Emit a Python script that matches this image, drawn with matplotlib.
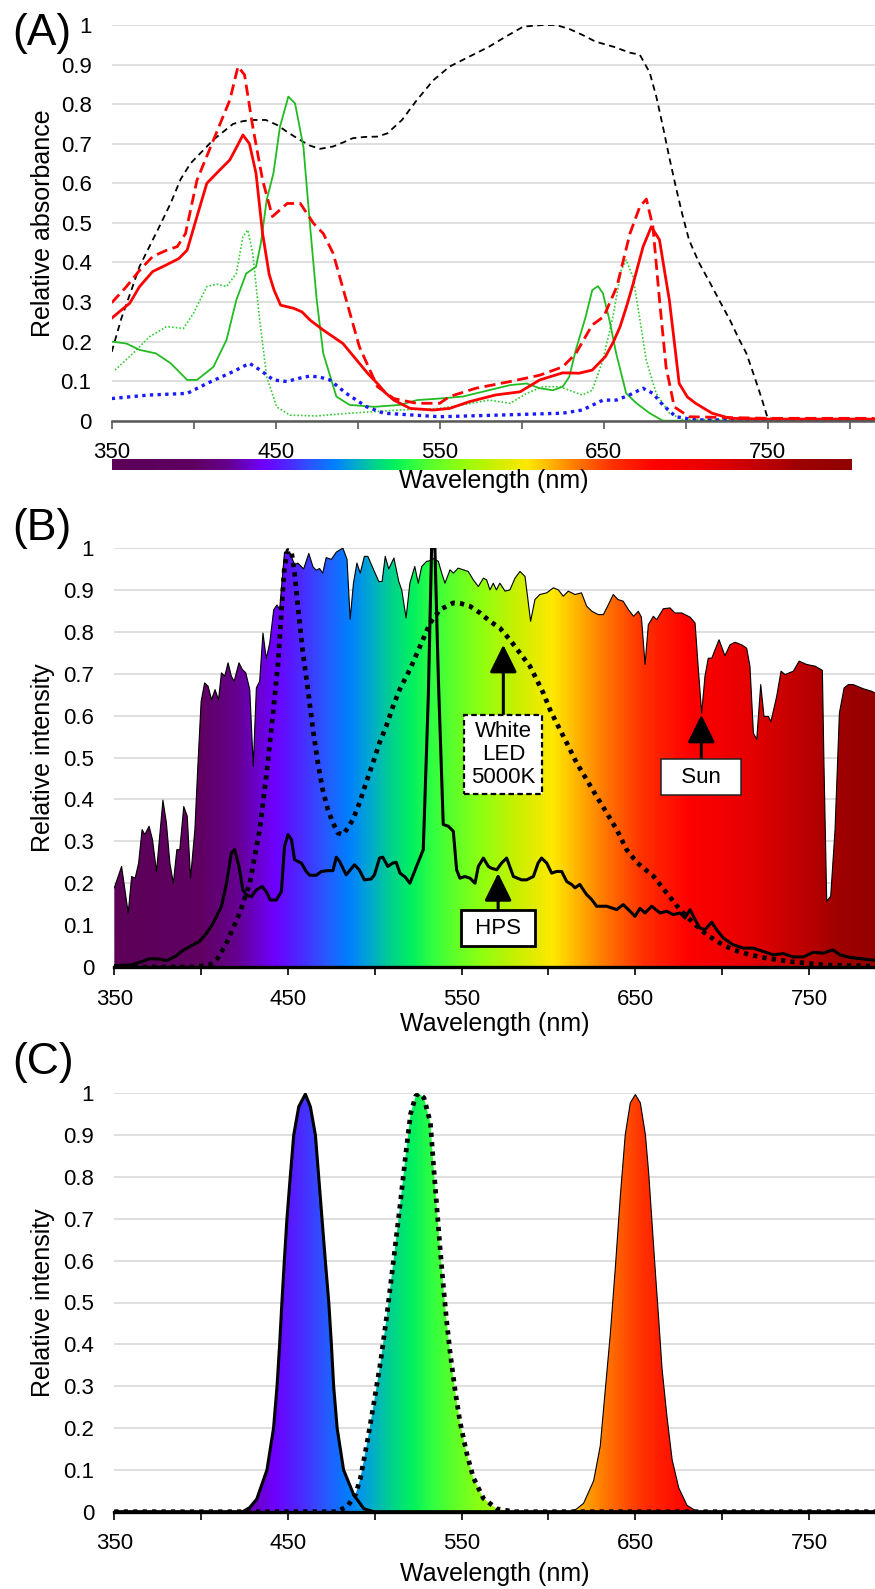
import numpy as np
import matplotlib
matplotlib.use('Agg')
import matplotlib.pyplot as plt
from matplotlib.colors import LinearSegmentedColormap
from matplotlib.patches import Polygon
from matplotlib.ticker import FuncFormatter

plt.rcParams['font.family'] = ['Liberation Sans', 'DejaVu Sans']

# ---------------- Panel A data: relative absorbance ----------------
blk_wl = [350, 356, 362, 367, 373, 379, 386, 392, 398, 405, 412, 418, 424, 430, 436, 444, 451, 458, 465, 471,
          477, 485, 491, 497, 504, 512, 518, 527, 536, 546, 556, 568, 580, 590, 601, 613, 621, 629, 637, 645,
          656, 666, 672, 678, 682, 686, 690, 694, 698, 702, 708, 715, 721, 727, 732, 737, 742, 746, 750, 760,
          780, 800, 815]
blk_val = [0.174, 0.26, 0.33, 0.39, 0.44, 0.49, 0.55, 0.61, 0.65, 0.68, 0.71, 0.73, 0.75, 0.757, 0.76, 0.76,
           0.747, 0.727, 0.709, 0.695, 0.687, 0.693, 0.703, 0.714, 0.717, 0.718, 0.726, 0.76, 0.81, 0.86, 0.895,
           0.92, 0.945, 0.97, 0.996, 1.0, 1.0, 0.99, 0.975, 0.958, 0.945, 0.93, 0.925, 0.88, 0.82, 0.745, 0.665,
           0.59, 0.52, 0.457, 0.4, 0.347, 0.3, 0.254, 0.21, 0.17, 0.11, 0.06, 0.006, 0.003, 0.003, 0.003, 0.003]

rs_wl = [350, 356, 361, 367, 375, 383, 391, 396, 402, 408, 416, 422, 426, 430, 434, 438, 442, 446, 449, 453,
         461, 466, 471, 479, 485, 491, 496, 501, 506, 512, 517, 522, 532, 546, 556, 568, 584, 599, 611, 625,
         635, 643, 651, 656, 660, 664, 668, 674, 679, 684, 687, 690, 693, 696, 701, 706, 716, 727, 750, 815]
rs_val = [0.259, 0.28, 0.297, 0.339, 0.377, 0.393, 0.41, 0.431, 0.516, 0.6, 0.634, 0.659, 0.69, 0.722, 0.70,
          0.625, 0.473, 0.37, 0.33, 0.292, 0.284, 0.275, 0.254, 0.229, 0.212, 0.195, 0.17, 0.145, 0.12, 0.094,
          0.07, 0.052, 0.031, 0.027, 0.031, 0.048, 0.065, 0.073, 0.103, 0.121, 0.12, 0.128, 0.162, 0.2, 0.238,
          0.29, 0.347, 0.44, 0.49, 0.457, 0.38, 0.305, 0.2, 0.094, 0.06, 0.044, 0.019, 0.006, 0.004, 0.004]

rd_wl = [350, 359, 367, 375, 383, 390, 395, 402, 412, 422, 427, 431, 436, 442, 448, 457, 465, 473, 479, 485,
         493, 501, 512, 522, 536, 550, 556, 572, 593, 611, 625, 633, 643, 650, 658, 666, 672, 676, 680, 684,
         688, 693, 702, 750, 815]
rd_val = [0.298, 0.339, 0.38, 0.415, 0.43, 0.44, 0.473, 0.608, 0.709, 0.81, 0.895, 0.874, 0.743, 0.608, 0.516,
          0.549, 0.549, 0.499, 0.473, 0.423, 0.305, 0.187, 0.086, 0.056, 0.044, 0.044, 0.061, 0.082, 0.099,
          0.115, 0.136, 0.17, 0.242, 0.263, 0.339, 0.473, 0.541, 0.56, 0.49, 0.305, 0.136, 0.035, 0.01, 0.006,
          0.006]

gs_wl = [350, 359, 367, 377, 386, 396, 402, 412, 420, 426, 432, 438, 441, 444.5, 448.6, 452.6, 457.7, 461.8,
         466.9, 471, 475, 479, 487, 495, 510, 526, 536, 550, 564, 580, 593, 603, 611, 619, 625, 629, 633, 639,
         643, 646.5, 649.5, 653.5, 657.6, 663.7, 670, 678, 686, 815]
gs_val = [0.2, 0.195, 0.179, 0.17, 0.145, 0.103, 0.103, 0.136, 0.204, 0.305, 0.372, 0.389, 0.45, 0.558, 0.625,
          0.743, 0.819, 0.802, 0.692, 0.49, 0.305, 0.17, 0.061, 0.04, 0.035, 0.04, 0.052, 0.056, 0.061, 0.077,
          0.09, 0.094, 0.082, 0.077, 0.086, 0.111, 0.179, 0.263, 0.33, 0.34, 0.322, 0.254, 0.17, 0.069, 0.044,
          0.019, 0.0, 0.0]

gd_wl = [352, 363, 373, 383.5, 393.7, 399.8, 408, 414, 420, 426, 430, 433, 436, 440, 444.5, 450.6, 458.7, 475,
         495, 526, 550, 564, 580, 593, 603, 613, 623, 629, 637, 643, 649.5, 655.6, 660.7, 663.7, 667.8, 671.8,
         675.9, 682, 690, 698, 815]
gd_val = [0.128, 0.17, 0.212, 0.238, 0.233, 0.271, 0.339, 0.345, 0.339, 0.372, 0.465, 0.482, 0.423, 0.263,
          0.111, 0.035, 0.014, 0.012, 0.019, 0.027, 0.031, 0.04, 0.052, 0.044, 0.069, 0.086, 0.086, 0.077, 0.065,
          0.077, 0.153, 0.263, 0.381, 0.406, 0.364, 0.263, 0.153, 0.069, 0.019, 0.003, 0.002]

bd_wl = [350, 373, 396, 408, 424, 434, 440.5, 448.6, 456.7, 464, 471, 477, 483, 493, 505.5, 515.7, 550, 584.5,
         625, 637, 649.5, 657.6, 665.7, 673.9, 680, 686, 694, 706, 815]
bd_val = [0.056, 0.065, 0.069, 0.094, 0.124, 0.145, 0.128, 0.103, 0.099, 0.107, 0.113, 0.11, 0.103, 0.069,
          0.035, 0.019, 0.01, 0.014, 0.019, 0.027, 0.052, 0.052, 0.065, 0.082, 0.069, 0.04, 0.01, 0.002, 0.002]

# ---------------- Panel B data: relative intensity ----------------
sun_wl = [350, 354.2, 358, 360, 362, 364, 366, 367.6, 370, 372, 374.3, 378, 380, 382, 384, 386, 387.7, 390, 392,
          393.9, 396.4, 398, 400, 402, 404, 406, 408, 410, 411.7, 413.6, 415.5, 417.4, 419, 421.8, 423.7, 425.7,
          428, 430, 431.8, 433.7, 435.6, 437.5, 439.5, 441.8, 443.7, 445.2, 448, 451, 453.8, 455.7, 459, 462,
          464.4, 466.3, 468.2, 470, 472, 475, 477.8, 481.6, 484, 485.8, 487.7, 489.7, 491.6, 494, 496, 498.9,
          502.3, 504.2, 506, 508, 511, 513.8, 515.5, 518, 520.2, 523, 525, 527, 529.8, 532, 534, 536.6, 538.5,
          540.4, 543.3, 545.2, 548, 551, 553.8, 556.7, 559.6, 562.5, 564.4, 566.3, 568.2, 570, 572, 575, 577.8,
          580.7, 583.6, 586.5, 589.7, 592.2, 595, 599, 602.8, 605.7, 608.5, 611.4, 615.3, 619, 622, 625, 628.7,
          631.6, 634.5, 637.3, 640, 643, 646, 649, 651.7, 653.5, 655.6, 657.5, 660.4, 662.3, 666.1, 670, 672.8,
          676.7, 681.5, 684.4, 686.3, 688.2, 690.1, 692, 694, 698.2, 701.6, 704.5, 707.4, 711.2, 714.1, 716, 718,
          719.9, 722.2, 724.1, 726.6, 728.1, 731.4, 733.9, 736.2, 741, 744.3, 748.7, 753.5, 757.7, 758.6, 760.2,
          762.5, 765, 767.5, 770.2, 772.7, 775.5, 781.3, 786.1, 788]
sun_val = [0.189, 0.24, 0.129, 0.216, 0.212, 0.248, 0.328, 0.316, 0.336, 0.304, 0.228, 0.398, 0.344, 0.248, 0.2,
           0.28, 0.28, 0.383, 0.36, 0.212, 0.328, 0.471, 0.634, 0.678, 0.67, 0.638, 0.662, 0.638, 0.702, 0.694,
           0.726, 0.694, 0.682, 0.726, 0.71, 0.702, 0.662, 0.479, 0.666, 0.682, 0.797, 0.736, 0.773, 0.853, 0.864,
           0.853, 0.99, 0.99, 0.96, 0.964, 0.95, 0.987, 0.955, 0.947, 0.951, 0.94, 0.977, 0.973, 0.99, 1.0, 0.973,
           0.83, 0.916, 0.964, 0.94, 0.98, 0.98, 0.952, 0.92, 0.92, 0.98, 0.95, 0.976, 0.92, 0.9, 0.833, 0.916,
           0.956, 0.916, 0.956, 0.968, 0.97, 0.975, 0.968, 0.94, 0.916, 0.948, 0.94, 0.952, 0.948, 0.944, 0.924,
           0.908, 0.928, 0.924, 0.9, 0.916, 0.9, 0.916, 0.897, 0.9, 0.928, 0.944, 0.932, 0.825, 0.877, 0.889,
           0.893, 0.905, 0.9, 0.885, 0.897, 0.889, 0.893, 0.861, 0.849, 0.841, 0.841, 0.865, 0.889, 0.877, 0.873,
           0.853, 0.837, 0.849, 0.835, 0.722, 0.817, 0.837, 0.829, 0.855, 0.857, 0.845, 0.845, 0.835, 0.821, 0.71,
           0.606, 0.694, 0.737, 0.737, 0.781, 0.743, 0.769, 0.775, 0.769, 0.761, 0.718, 0.558, 0.543, 0.674,
           0.598, 0.598, 0.586, 0.646, 0.706, 0.698, 0.706, 0.73, 0.722, 0.718, 0.708, 0.487, 0.157, 0.169, 0.328,
           0.606, 0.666, 0.674, 0.674, 0.664, 0.658, 0.654]

hps_wl = [350, 360, 365, 370.5, 376, 380, 385, 389.7, 394, 399, 403, 407, 411.7, 414.6, 417.4, 419.3, 421.8, 424,
          426, 429, 431.8, 435.2, 437.5, 439.8, 443.3, 446.2, 448, 450, 452, 453.8, 457.7, 460.5, 462.5, 466.3,
          469.2, 473, 475.9, 477.8, 479.7, 483.5, 488.3, 491, 494, 497.9, 499.8, 502.7, 504.6, 507.5, 510.3,
          512.3, 514.5, 517.4, 520.2, 524, 527.9, 530.8, 532.7, 534.6, 536.6, 539.4, 542.3, 545.2, 547.1, 549,
          551.9, 554.8, 557.7, 559.6, 562.5, 565.4, 567, 570.2, 573, 575.9, 579.8, 584.5, 587.4, 591.3, 594, 596,
          599, 601.8, 604.7, 607.6, 610.5, 613.3, 615.3, 618, 621.9, 624.9, 627.7, 633.5, 639.3, 643, 647, 649.8,
          652.7, 655.6, 659.4, 664.2, 668, 671.9, 675.7, 678.6, 681.5, 684.4, 687.2, 690.1, 694, 696.8, 700.7,
          706.4, 712.2, 718, 723.7, 729.5, 735.2, 741, 746.7, 752.5, 758.3, 763.6, 767.9, 773.6, 779.4, 788]
hps_val = [0.003, 0.005, 0.012, 0.02, 0.019, 0.015, 0.025, 0.04, 0.05, 0.061, 0.08, 0.105, 0.145, 0.2, 0.272,
           0.28, 0.24, 0.184, 0.172, 0.168, 0.184, 0.192, 0.18, 0.16, 0.16, 0.18, 0.288, 0.316, 0.304, 0.256,
           0.248, 0.228, 0.219, 0.219, 0.228, 0.23, 0.23, 0.262, 0.252, 0.22, 0.244, 0.232, 0.208, 0.21, 0.22,
           0.26, 0.262, 0.24, 0.248, 0.25, 0.224, 0.215, 0.2, 0.24, 0.28, 0.646, 1.0, 1.0, 0.686, 0.34, 0.336,
           0.324, 0.232, 0.212, 0.216, 0.212, 0.2, 0.24, 0.26, 0.24, 0.236, 0.232, 0.248, 0.26, 0.216, 0.208,
           0.208, 0.216, 0.248, 0.26, 0.248, 0.224, 0.228, 0.228, 0.204, 0.197, 0.189, 0.197, 0.173, 0.161, 0.145,
           0.145, 0.137, 0.149, 0.133, 0.121, 0.14, 0.129, 0.145, 0.129, 0.133, 0.125, 0.129, 0.117, 0.137, 0.113,
           0.093, 0.089, 0.107, 0.089, 0.069, 0.053, 0.045, 0.045, 0.037, 0.029, 0.032, 0.024, 0.024, 0.035,
           0.033, 0.041, 0.029, 0.023, 0.02, 0.016]

led_wl = [350, 395, 405, 409, 414.6, 422.2, 428, 433.7, 437.5, 441.4, 444.3, 446.2, 448, 450, 452, 453.8, 455.7,
          458.6, 461.5, 464.4, 467.2, 470, 473, 475.9, 478.7, 481.6, 484.5, 487.4, 491.2, 495, 498.9, 502.7,
          506.5, 510.3, 514.5, 520.2, 526, 531.8, 537.5, 545.2, 550, 554.8, 560.6, 566.3, 572, 577.8, 583.6,
          589.3, 593.2, 597, 600.9, 604.7, 610.5, 616.2, 622, 627.7, 633.5, 639.3, 645, 650.8, 656.5, 660.4, 668,
          675.7, 683.4, 691.1, 698.8, 706.4, 716, 725.6, 739, 758, 788]
led_val = [0.0, 0.0, 0.005, 0.018, 0.057, 0.129, 0.2, 0.328, 0.455, 0.606, 0.726, 0.845, 0.956, 0.994, 0.992,
           0.94, 0.86, 0.75, 0.662, 0.566, 0.487, 0.423, 0.375, 0.344, 0.32, 0.316, 0.332, 0.352, 0.392, 0.44,
           0.487, 0.535, 0.574, 0.62, 0.664, 0.71, 0.765, 0.821, 0.853, 0.869, 0.867, 0.861, 0.845, 0.825, 0.809,
           0.781, 0.749, 0.718, 0.686, 0.654, 0.614, 0.582, 0.535, 0.487, 0.447, 0.407, 0.368, 0.328, 0.28, 0.25,
           0.23, 0.217, 0.177, 0.137, 0.105, 0.077, 0.057, 0.041, 0.029, 0.021, 0.013, 0.005, 0.002]

# ---------------- Panel C data: LED spectra ----------------
blue_wl = [350, 424, 428, 432, 437.9, 441.7, 443.7, 445.2, 446.5, 447.9, 449.4, 451.3, 453.3, 456.2, 460, 462.9,
           465.8, 467.7, 469.6, 471.5, 473.5, 475, 476.3, 478.3, 482, 487.9, 493.7, 499.4, 788]
blue_val = [0.0, 0.0, 0.01, 0.03, 0.1, 0.2, 0.3, 0.4, 0.5, 0.6, 0.7, 0.8, 0.9, 0.968, 0.998, 0.968, 0.9, 0.8, 0.7,
            0.6, 0.5, 0.4, 0.3, 0.2, 0.1, 0.04, 0.007, 0.0, 0.0]
green_wl = [350, 478, 484, 488.8, 491.7, 495.6, 499.4, 503.3, 507.1, 511, 514.8, 517.7, 520.6, 523.5, 525.4,
            528.3, 532, 533.7, 535.6, 537.5, 539.4, 541.3, 543.3, 546.2, 549, 552.9, 556.7, 562.5, 570.2, 580, 788]
green_val = [0.0, 0.0, 0.012, 0.04, 0.08, 0.166, 0.258, 0.358, 0.475, 0.609, 0.742, 0.851, 0.951, 0.993, 1.0,
             0.989, 0.93, 0.834, 0.734, 0.634, 0.542, 0.458, 0.383, 0.291, 0.216, 0.14, 0.082, 0.032, 0.007, 0.0,
             0.0]
red_wl = [350, 612, 616, 620.2, 626, 629.8, 632.7, 635.6, 638.5, 641.3, 644.2, 647.1, 650, 652.9, 655.8, 657.7,
          659.6, 661.5, 663.5, 665.4, 668.3, 671.2, 675, 679.8, 685.6, 788]
red_val = [0.0, 0.0, 0.006, 0.02, 0.074, 0.157, 0.291, 0.425, 0.584, 0.751, 0.901, 0.977, 0.997, 0.977, 0.901,
           0.809, 0.692, 0.575, 0.458, 0.341, 0.224, 0.124, 0.057, 0.015, 0.0, 0.0]

# ---------------- wavelength colour scale ----------------
spec_wl = [350, 400, 420, 442, 458, 470, 485, 497, 509, 521, 533, 546, 562, 582, 603, 618, 635, 655, 682, 716,
           746, 767, 800]
spec_hex = ['#5c0058', '#600062', '#650090', '#6e00ff', '#4a2cff', '#2a55ff', '#0080ff', '#00a8d0', '#00d090',
            '#00f060', '#30ff40', '#60ff28', '#90ff10', '#c8f000', '#ffe800', '#ffb000', '#ff7000', '#ff3000',
            '#ff0000', '#e60000', '#c00000', '#a00000', '#900000']
cmap = LinearSegmentedColormap.from_list(
    'spectrum', [((w - 350) / 450.0, c) for w, c in zip(spec_wl, spec_hex)])
grad_wl = np.linspace(350, 800, 901)
grad = grad_wl[None, :]

W, H = 875.0, 1589.0
fig = plt.figure(figsize=(8.75, 15.89), dpi=100)


def rect(x0, y0, x1, y1):
    return [x0 / W, 1 - y1 / H, (x1 - x0) / W, (y1 - y0) / H]


def style(ax, xmax, spcol, splw, xpad):
    ax.set_xlim(350, xmax)
    ax.set_ylim(0, 1)
    for s in ['left', 'top', 'right']:
        ax.spines[s].set_visible(False)
    ax.spines['bottom'].set_color(spcol)
    ax.spines['bottom'].set_linewidth(splw)
    ax.spines['bottom'].set_zorder(6)
    ax.set_yticks(np.round(np.arange(0, 1.01, 0.1), 1))
    ax.yaxis.set_major_formatter(FuncFormatter(lambda v, p: f'{v:g}'))
    ax.tick_params(axis='y', length=0, pad=14.5, labelsize=16)
    xt = np.arange(350, xmax + 0.1, 50)
    ax.set_xticks(xt)
    ax.set_xticklabels([f'{int(v)}' if (v - 350) % 100 == 0 else '' for v in xt])
    ax.tick_params(axis='x', length=5.5, width=1.2, color=spcol, pad=xpad, labelsize=16, direction='out')
    ax.grid(axis='y', color='#d9d9d9', lw=1.2)
    ax.set_axisbelow(True)


def spectrum_fill(ax, wl, val, zorder=1):
    poly = Polygon(np.column_stack([np.r_[wl[0], wl, wl[-1]], np.r_[0, val, 0]]), closed=True,
                   transform=ax.transData, facecolor='none', edgecolor='none')
    im = ax.imshow(grad, extent=[350, 800, 0, 1], aspect='auto', cmap=cmap, origin='lower',
                   interpolation='bilinear', zorder=zorder)
    im.set_clip_path(poly)
    return im


# ---------------- Panel A ----------------
axA = fig.add_axes(rect(111.7, 25, 875, 420.7))
axA.plot(blk_wl, blk_val, color='black', lw=1.3, ls=(0, (3.5, 2.5)), zorder=2)
axA.plot(gd_wl, gd_val, color='#33cc33', lw=1.2, ls=(0, (1, 1.2)), zorder=3)
axA.plot(gs_wl, gs_val, color='#22bb22', lw=1.3, zorder=3)
axA.plot(bd_wl, bd_val, color='#1a1aff', lw=2.4, ls=(0, (1, 1.3)), zorder=4)
axA.plot(rd_wl, rd_val, color='#ff0000', lw=2.0, ls=(0, (4, 2)), zorder=5)
axA.plot(rs_wl, rs_val, color='#ff0000', lw=2.0, zorder=5)
style(axA, 815.4, '#595959', 1.8, 9.5)
axA.set_ylabel('Relative absorbance', fontsize=18)
axA.yaxis.set_label_coords((55 - 111.7) / (875 - 111.7), 0.5)

axCb = fig.add_axes(rect(111.7, 459.3, 851, 470))
axCb.imshow(grad, extent=[350, 800, 0, 1], aspect='auto', cmap=cmap, origin='lower', interpolation='bilinear')
axCb.set_axis_off()
fig.text((111.7 + 875) / 2 / W, 1 - 488 / H, 'Wavelength (nm)', fontsize=18, ha='center', va='baseline')
fig.text(12 / W, 1 - 45 / H, '(A)', fontsize=32, ha='left', va='baseline')

# ---------------- Panel B ----------------
axB = fig.add_axes(rect(114.3, 548, 875, 967))
spectrum_fill(axB, sun_wl, sun_val, zorder=1)
axB.plot(sun_wl, sun_val, color='black', lw=0.8, zorder=2)
axB.plot(led_wl, led_val, color='black', lw=3.4, ls=(0, (0.9, 1.1)), zorder=3)
axB.plot(hps_wl, hps_val, color='black', lw=2.2, zorder=4)
style(axB, 788, 'black', 2.4, 10)
axB.set_ylabel('Relative intensity', fontsize=18)
axB.yaxis.set_label_coords((55 - 114.3) / (875 - 114.3), 0.5)
fig.text((114.3 + 875) / 2 / W, 1 - 1031 / H, 'Wavelength (nm)', fontsize=18, ha='center', va='baseline')
fig.text(12 / W, 1 - 540 / H, '(B)', fontsize=32, ha='left', va='baseline')

arrow = dict(arrowstyle='-|>,head_width=0.42,head_length=0.85', lw=2.2, color='black',
             mutation_scale=20, shrinkA=0, shrinkB=0)
axB.annotate('White\nLED\n5000K', xy=(574, 0.769), xytext=(574, 0.507), ha='center', va='center',
             fontsize=16, linespacing=1.1, zorder=7,
             bbox=dict(boxstyle='square,pad=0.3', fc='white', ec='black', lw=1.6, ls=(0, (2.5, 1.5))),
             arrowprops=arrow)
axB.annotate(' HPS ', xy=(571, 0.224), xytext=(571, 0.093), ha='center', va='center', fontsize=16, zorder=7,
             bbox=dict(boxstyle='square,pad=0.35', fc='white', ec='black', lw=2.0),
             arrowprops=arrow)
axB.annotate('  Sun  ', xy=(688, 0.602), xytext=(688, 0.453), ha='center', va='center', fontsize=16, zorder=7,
             bbox=dict(boxstyle='square,pad=0.35', fc='white', ec='#222222', lw=1.1),
             arrowprops=arrow)

# ---------------- Panel C ----------------
axC = fig.add_axes(rect(114.3, 1093.3, 875, 1511.7))
spectrum_fill(axC, blue_wl, blue_val, zorder=1)
spectrum_fill(axC, green_wl, green_val, zorder=1)
spectrum_fill(axC, red_wl, red_val, zorder=1)
axC.plot(red_wl, red_val, color='black', lw=0.8, zorder=2)
axC.plot(green_wl, green_val, color='black', lw=3.4, ls=(0, (0.9, 1.1)), zorder=3)
axC.plot(blue_wl, blue_val, color='black', lw=2.2, zorder=4)
style(axC, 788, 'black', 2.4, 10)
axC.set_ylabel('Relative intensity', fontsize=18)
axC.yaxis.set_label_coords((55 - 114.3) / (875 - 114.3), 0.5)
fig.text((114.3 + 875) / 2 / W, 1 - 1581 / H, 'Wavelength (nm)', fontsize=18, ha='center', va='baseline')
fig.text(12 / W, 1 - 1074 / H, '(C)', fontsize=32, ha='left', va='baseline')

fig.savefig('out.png', dpi=100)
